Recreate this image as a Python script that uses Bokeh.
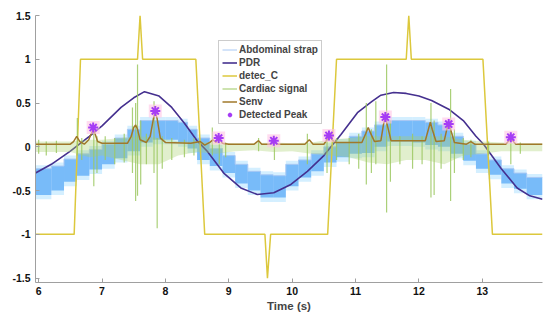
from bokeh.plotting import figure
from bokeh.models import Range1d, Legend, LegendItem, FixedTicker
from bokeh.embed import file_html
from bokeh.resources import INLINE

# ---------------- data ----------------
# Abdominal strap (quantised respiration band): time, lower, upper
abd_t = [5.95, 6.2, 6.4, 6.6, 6.8, 7.0, 7.2, 7.4, 7.6, 7.8, 8.0, 8.2, 8.35, 8.5, 8.7, 8.9,
         9.1, 9.3, 9.5, 9.7, 9.9, 10.1, 10.3, 10.5, 10.7, 10.9, 11.1, 11.3, 11.5, 11.7,
         11.9, 12.1, 12.3, 12.5, 12.7, 12.9, 13.1, 13.3, 13.5, 13.7, 13.95]
abd_lo = [-0.55, -0.5, -0.4, -0.33, -0.26, -0.2, -0.13, -0.05, 0.05, 0.08, 0.08, 0.05, -0.02,
          -0.15, -0.22, -0.3, -0.42, -0.5, -0.58, -0.58, -0.45, -0.35, -0.28, -0.18, -0.12,
          -0.08, -0.07, 0.0, 0.06, 0.06, 0.05, 0.02, 0.0, -0.08, -0.16, -0.25, -0.32, -0.42,
          -0.48, -0.55, -0.56]
abd_hi = [-0.25, -0.22, -0.14, -0.08, -0.03, 0.03, 0.1, 0.2, 0.3, 0.3, 0.3, 0.28, 0.2, 0.1,
          -0.02, -0.1, -0.2, -0.28, -0.32, -0.33, -0.2, -0.15, -0.08, 0.0, 0.05, 0.12, 0.18,
          0.25, 0.3, 0.3, 0.3, 0.28, 0.25, 0.12, 0.03, -0.08, -0.15, -0.25, -0.3, -0.35, -0.35]

# PDR
pdr_t = [5.95, 6.2, 6.5, 6.8, 7.0, 7.3, 7.5, 7.67, 7.9, 8.1, 8.3, 8.5, 8.66, 8.92, 9.19, 9.45,
         9.71, 9.98, 10.24, 10.5, 10.77, 11.03, 11.26, 11.4, 11.6, 11.8, 12.0, 12.2, 12.47,
         12.7, 12.9, 13.02, 13.3, 13.55, 13.75, 13.95]
pdr_y = [-0.3, -0.2, -0.05, 0.12, 0.24, 0.45, 0.56, 0.63, 0.58, 0.45, 0.27, 0.07, -0.05, -0.3,
         -0.47, -0.545, -0.525, -0.43, -0.28, -0.1, 0.14, 0.39, 0.52, 0.59, 0.62, 0.61, 0.58,
         0.53, 0.43, 0.3, 0.12, 0.03, -0.25, -0.47, -0.56, -0.6]

# detec_C
det_t = [5.95, 6.56, 6.66, 7.56, 7.6, 7.64, 8.48, 8.62, 9.57, 9.61, 9.66, 10.56, 10.70,
         11.80, 11.84, 11.88, 13.01, 13.16, 13.95]
det_y = [-1, -1, 1, 1, 1.5, 1, 1, -1, -1, -1.5, -1, -1, 1, 1, 1.5, 1, 1, -1, -1]

# Cardiac signal: background noise band and individual beats (time, min, max)
car_t = [5.95, 6.5, 6.8, 7.0, 7.3, 7.6, 7.9, 8.2, 8.5, 8.8, 9.1, 9.4, 9.7, 10.0, 10.3, 10.6,
         10.9, 11.2, 11.5, 11.8, 12.1, 12.4, 12.7, 13.0, 13.3, 13.6, 13.95]
car_lo = [-0.06, -0.06, -0.12, -0.1, -0.15, -0.2, -0.2, -0.1, -0.06, -0.08, -0.05, -0.04,
          -0.06, -0.05, -0.08, -0.1, -0.12, -0.18, -0.2, -0.15, -0.15, -0.2, -0.1, -0.08,
          -0.05, -0.05, -0.05]
car_hi = [0.06, 0.06, 0.08, 0.08, 0.1, 0.12, 0.1, 0.06, 0.06, 0.05, 0.04, 0.04, 0.05, 0.04,
          0.05, 0.08, 0.1, 0.12, 0.12, 0.12, 0.12, 0.12, 0.08, 0.06, 0.05, 0.04, 0.04]
spk_t = [6.0, 6.12, 6.28, 6.61, 6.68, 6.87, 6.92, 7.05, 7.2, 7.35, 7.48, 7.53, 7.56, 7.61,
         7.7, 7.82, 7.87, 7.95, 8.1, 8.3, 8.45, 8.74, 8.85, 8.95, 9.47, 9.72, 10.24, 10.55,
         10.7, 10.9, 11.05, 11.17, 11.25, 11.32, 11.49, 11.55, 11.7, 11.9, 12.05, 12.19,
         12.24, 12.35, 12.5, 12.56, 12.7, 12.82, 13.1, 13.45, 13.6]
spk_lo = [-0.08, -0.1, -0.07, -0.1, -0.15, -0.45, -0.3, -0.15, -0.2, -0.18, -0.3, -0.62,
          -0.56, -0.43, -0.2, -0.3, -0.93, -0.25, -0.15, -0.12, -0.1, -0.1, -0.2, -0.12,
          -0.05, -0.15, -0.2, -0.3, -0.15, -0.2, -0.25, -0.43, -0.3, -0.2, -0.75, -0.4,
          -0.2, -0.25, -0.2, -0.58, -0.55, -0.25, -0.62, -0.3, -0.15, -0.12, -0.1, -0.2,
          -0.08]
spk_hi = [0.08, 0.06, 0.07, 0.33, 0.1, 0.25, 0.12, 0.12, 0.1, 0.15, 0.45, 0.5, 0.94, 0.3,
          0.15, 0.52, 0.1, 0.12, 0.1, 0.08, 0.1, 0.22, 0.08, 0.05, 0.1, 0.06, 0.15, 0.15,
          0.1, 0.1, 0.15, 0.5, 0.2, 0.52, 0.94, 0.3, 0.12, 0.15, 0.12, 0.5, 0.3, 0.15, 0.66,
          0.2, 0.1, 0.08, 0.06, 0.1, 0.05]

# Senv
env_t = [5.95, 6.5, 6.55, 6.6, 6.65, 6.72, 6.79, 6.83, 6.86, 6.89, 6.93, 7.0, 7.4, 7.46,
         7.5, 7.53, 7.56, 7.6, 7.7, 7.76, 7.81, 7.84, 7.87, 7.92, 8.0, 8.4, 8.55, 8.62, 8.7,
         8.75, 8.8, 8.84, 8.9, 9.0, 9.4, 9.47, 9.52, 9.66, 9.71, 9.76, 10.2, 10.27, 10.33,
         10.5, 10.55, 10.58, 10.62, 10.68, 11.1, 11.16, 11.2, 11.24, 11.3, 11.4, 11.44, 11.47,
         11.5, 11.56, 12.1, 12.15, 12.18, 12.21, 12.27, 12.4, 12.44, 12.47, 12.5, 12.56,
         12.75, 12.82, 12.88, 13.37, 13.42, 13.45, 13.48, 13.53, 13.95]
env_y = [0.03, 0.03, 0.06, 0.12, 0.06, 0.03, 0.08, 0.15, 0.2, 0.15, 0.06, 0.04, 0.04, 0.12,
         0.22, 0.25, 0.2, 0.08, 0.05, 0.12, 0.32, 0.4, 0.32, 0.1, 0.05, 0.04, 0.06, 0.02,
         0.05, 0.08, 0.05, 0.1, 0.04, 0.03, 0.03, 0.07, 0.03, 0.03, 0.06, 0.03, 0.03, 0.08,
         0.03, 0.03, 0.08, 0.12, 0.09, 0.05, 0.05, 0.15, 0.22, 0.15, 0.06, 0.07, 0.25, 0.34,
         0.25, 0.07, 0.07, 0.2, 0.28, 0.2, 0.06, 0.07, 0.2, 0.26, 0.2, 0.05, 0.03, 0.06,
         0.03, 0.03, 0.07, 0.1, 0.07, 0.03, 0.03]

# Detected peaks
pk_t = [6.86, 7.84, 8.84, 9.71, 10.58, 11.47, 12.47, 13.45]
pk_y = [0.22, 0.41, 0.10, 0.07, 0.13, 0.34, 0.26, 0.11]

x_ticks = [6, 7, 8, 9, 10, 11, 12, 13]
y_ticks = [-1.5, -1, -0.5, 0, 0.5, 1, 1.5]

FONT = "Liberation Sans"

p = figure(width=548, height=314, output_backend="svg", toolbar_location=None,
           x_range=Range1d(5.95, 13.95), y_range=Range1d(-1.55, 1.5),
           min_border_left=35, min_border_right=6, min_border_top=15, min_border_bottom=0)
p.outline_line_color = None
p.grid.visible = False

# Abdominal strap
p.quad(left=abd_t[:-1], right=abd_t[1:], bottom=[v - 0.05 for v in abd_lo[:-1]],
       top=[v + 0.04 for v in abd_hi[:-1]], fill_color="#aadfff", fill_alpha=0.5,
       line_color=None)
p.quad(left=abd_t[:-1], right=abd_t[1:], bottom=abd_lo[:-1], top=abd_hi[:-1],
       fill_color="#55a6f6", fill_alpha=0.72, line_color=None)
r_abd = p.step(abd_t, abd_hi, mode="after", line_color="#a8c8f4", line_width=1)

# PDR
r_pdr = p.line(pdr_t, pdr_y, line_color="#45308f", line_width=1.6)

# detec_C
r_det = p.line(det_t, det_y, line_color="#dcc83c", line_width=1.5)

# Cardiac signal
p.varea(x=car_t, y1=car_lo, y2=car_hi, fill_color="#a8d070", fill_alpha=0.35)
r_car = p.segment(x0=spk_t, y0=spk_lo, x1=spk_t, y1=spk_hi, line_color="#9cc862",
                  line_width=1.2, line_alpha=0.85)

# Senv
r_env = p.line(env_t, env_y, line_color="#a0782a", line_width=1.5)

# Detected peaks
p.scatter(pk_t, pk_y, marker="square", size=13, fill_color="#ffc4e4", fill_alpha=0.6,
          line_color=None)
r_pk = p.scatter(pk_t, pk_y, marker="asterisk", size=10, line_color="#a63cf5", line_width=2)

# axes
for ax in (p.xaxis[0], p.yaxis[0]):
    ax.axis_line_color = "#a0a0a0"
    ax.major_tick_line_color = "#a0a0a0"
    ax.major_tick_in = 4
    ax.major_tick_out = 0
    ax.minor_tick_line_color = None
    ax.major_label_text_font = FONT
    ax.major_label_text_font_style = "bold"
    ax.major_label_text_font_size = "10.5px"
    ax.major_label_text_color = "#111111"
p.xaxis.ticker = FixedTicker(ticks=x_ticks)
p.yaxis.ticker = FixedTicker(ticks=y_ticks)
p.yaxis.major_label_overrides = {-1.5: "-1.5", -1: "-1", -0.5: "-0.5", 0: "0", 0.5: "0.5",
                                 1: "1", 1.5: "1.5"}
p.xaxis.major_label_standoff = 4
p.yaxis.major_label_standoff = 5
p.xaxis.axis_label = "Time (s)"
p.xaxis.axis_label_text_font = FONT
p.xaxis.axis_label_text_font_style = "bold"
p.xaxis.axis_label_text_font_size = "11.5px"
p.xaxis.axis_label_standoff = 2

legend = Legend(items=[
    LegendItem(label="Abdominal strap", renderers=[r_abd]),
    LegendItem(label="PDR", renderers=[r_pdr]),
    LegendItem(label="detec_C", renderers=[r_det]),
    LegendItem(label="Cardiac signal", renderers=[r_car]),
    LegendItem(label="Senv", renderers=[r_env]),
    LegendItem(label="Detected Peak", renderers=[r_pk]),
], location=(183, 158))
legend.label_text_font = FONT
legend.label_text_font_style = "bold"
legend.label_text_font_size = "10px"
legend.label_height = 11
legend.glyph_height = 11
legend.glyph_width = 15
legend.spacing = 2
legend.padding = 3
legend.margin = 0
legend.label_standoff = 2
legend.border_line_color = "#999999"
legend.background_fill_alpha = 1
p.add_layout(legend)

open("out.html", "w").write(file_html(p, INLINE))
